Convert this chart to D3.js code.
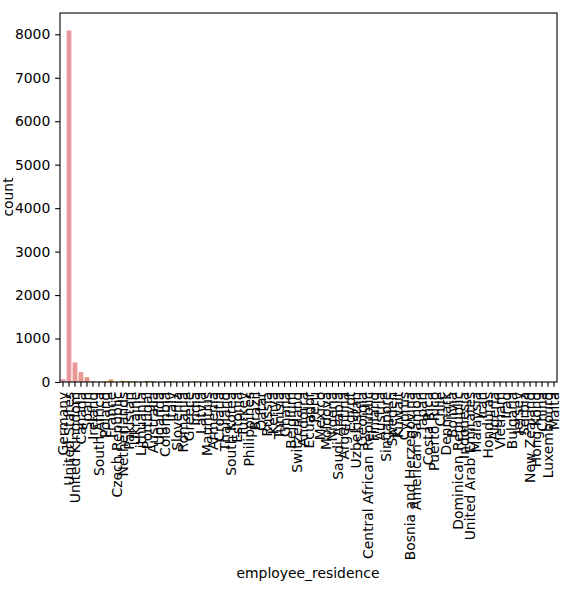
<!DOCTYPE html>
<html><head><meta charset="utf-8">
<script src="https://cdn.jsdelivr.net/npm/d3@7"></script>
<style>body{margin:0;background:#fff}svg text{font-family:"DejaVu Sans",sans-serif;fill:#000}</style>
</head><body><svg id="c" width="586" height="596"></svg>
<script>
const categories = ["Germany","United States","United Kingdom","Canada","Spain","Ireland","South Africa","Poland","France","Czech Republic",
"Netherlands","Pakistan","Ukraine","Lithuania","Portugal","Australia","Uganda","Colombia","Italy","Slovenia",
"Romania","Greece","India","Latvia","Mauritius","Armenia","Croatia","Thailand","South Korea","Estonia",
"Turkey","Philippines","Brazil","Qatar","Russia","Kenya","Tunisia","Ghana","Belgium","Switzerland",
"Andorra","Ecuador","Peru","Mexico","Moldova","Nigeria","Saudi Arabia","Argentina","Egypt","Uzbekistan",
"Georgia","Central African Republic","Finland","Austria","Singapore","Sweden","Kuwait","Cyprus","Bosnia and Herzegovina","American Samoa",
"Japan","Costa Rica","Puerto Rico","Chile","Denmark","Bolivia","Dominican Republic","Indonesia","United Arab Emirates","Malaysia",
"Iran","Honduras","Algeria","Vietnam","Iraq","Bulgaria","Jersey","Serbia","New Zealand","Hong Kong",
"China","Luxembourg","Malta"];
const counts = [66,8086,450,226,113,18,5,16,56,4,
31,22,19,6,26,23,3,14,18,15,
7,14,16,13,2,5,7,4,3,12,
11,6,14,2,12,4,3,5,12,14,
2,3,4,13,2,12,3,12,4,3,
2,2,6,14,15,6,2,3,2,2,
4,3,2,12,4,2,3,4,3,3,
2,2,2,4,2,2,2,3,3,4,
2,2,2];
const yTicks = [0,1000,2000,3000,4000,5000,6000,7000,8000];

// ---- seaborn husl palette (l=.7) + desaturate(.75) ----
const M=[[3.2406,-1.5372,-0.4986],[-0.9689,1.8758,0.0415],[0.0557,-0.2040,1.0570]];
const refU=0.19784, refV=0.46834, labE=0.008856, labK=903.3;
function maxChroma(L,H){const hr=H/360*2*Math.PI,sH=Math.sin(hr),cH=Math.cos(hr);
 const s1=Math.pow(L+16,3)/1560896, s2=s1>labE?s1:L/labK; let res=Infinity;
 for(const [m1,m2,m3] of M){const top=(0.99915*m1+1.05122*m2+1.14460*m3)*s2;
  const rb=0.86330*m3-0.17266*m2, lb=0.12949*m3-0.38848*m1, bot=(rb*sH+lb*cH)*s2;
  for(const t of [0,1]){const C=L*(top-1.05122*t)/(bot+0.17266*sH*t); if(C>0&&C<res)res=C;}}
 return res;}
function fInv(t){return Math.pow(t,3)>labE?Math.pow(t,3):(116*t-16)/labK;}
function fromLin(c){return c<=0.0031308?12.92*c:1.055*Math.pow(c,1/2.4)-0.055;}
function huslToRgb(H,S,L){const C=maxChroma(L,H)/100*S;const hr=H/360*2*Math.PI;
 const U=C*Math.cos(hr),V=C*Math.sin(hr);
 const vY=fInv((L+16)/116),vU=U/(13*L)+refU,vV=V/(13*L)+refV;const Y=vY;
 const X=0-(9*Y*vU)/((vU-4)*vV-vU*vV);const Z=(9*Y-15*vV*Y-vV*X)/(3*vV);
 return M.map(r=>Math.min(1,Math.max(0,fromLin(r[0]*X+r[1]*Y+r[2]*Z))));}
function palette(n){const out=[];for(let i=0;i<n;i++){let h=(i/n+0.01)%1*359;
 const [r,g,b]=huslToRgb(h,0.9*99,0.7*99);const c=d3.hsl(d3.rgb(r*255,g*255,b*255));c.s*=0.75;out.push(c.formatHex());}
 return out;}
const colors = palette(categories.length);

const svg=d3.select("#c");
const L=60,R=557,T=13,B=382;
const x=d3.scaleBand().domain(categories).range([L,R]).paddingInner(0.2).paddingOuter(0.1);
const y=d3.scaleLinear().domain([0,8490]).range([B,T]);

svg.append("g").selectAll("rect").data(categories).join("rect")
 .attr("x",d=>x(d)).attr("width",x.bandwidth())
 .attr("y",(d,i)=>y(counts[i])).attr("height",(d,i)=>B-y(counts[i]))
 .attr("fill",(d,i)=>colors[i]);

const fs="13.9px";
const xa=svg.append("g").attr("transform",`translate(0,${B})`)
 .call(d3.axisBottom(x).tickSize(4.86).tickPadding(4.86).tickSizeOuter(0));
xa.select(".domain").remove();
xa.selectAll(".tick line").attr("stroke","#000").attr("stroke-width",1.1);
xa.selectAll(".tick text").attr("font-size",fs).attr("font-family","DejaVu Sans")
 .attr("text-anchor","end").attr("dy",null).attr("dominant-baseline","central")
 .attr("transform","translate(0,9.7) rotate(-90)").attr("x",0).attr("y",0);

const ya=svg.append("g").attr("transform",`translate(${L},0)`)
 .call(d3.axisLeft(y).tickValues(yTicks).tickSize(4.86).tickPadding(4.86).tickFormat(d3.format("d")));
ya.select(".domain").remove();
ya.selectAll(".tick line").attr("stroke","#000").attr("stroke-width",1.1);
ya.selectAll(".tick text").attr("font-size",fs).attr("font-family","DejaVu Sans");

svg.append("rect").attr("x",L).attr("y",T).attr("width",R-L).attr("height",B-T)
 .attr("fill","none").attr("stroke","#000").attr("stroke-width",1.1);

svg.append("text").attr("x",308).attr("y",578).attr("text-anchor","middle")
 .attr("font-size",fs).text("employee_residence");
svg.append("text").attr("transform","translate(12.5,197) rotate(-90)").attr("text-anchor","middle")
 .attr("font-size",fs).text("count");
</script></body></html>
